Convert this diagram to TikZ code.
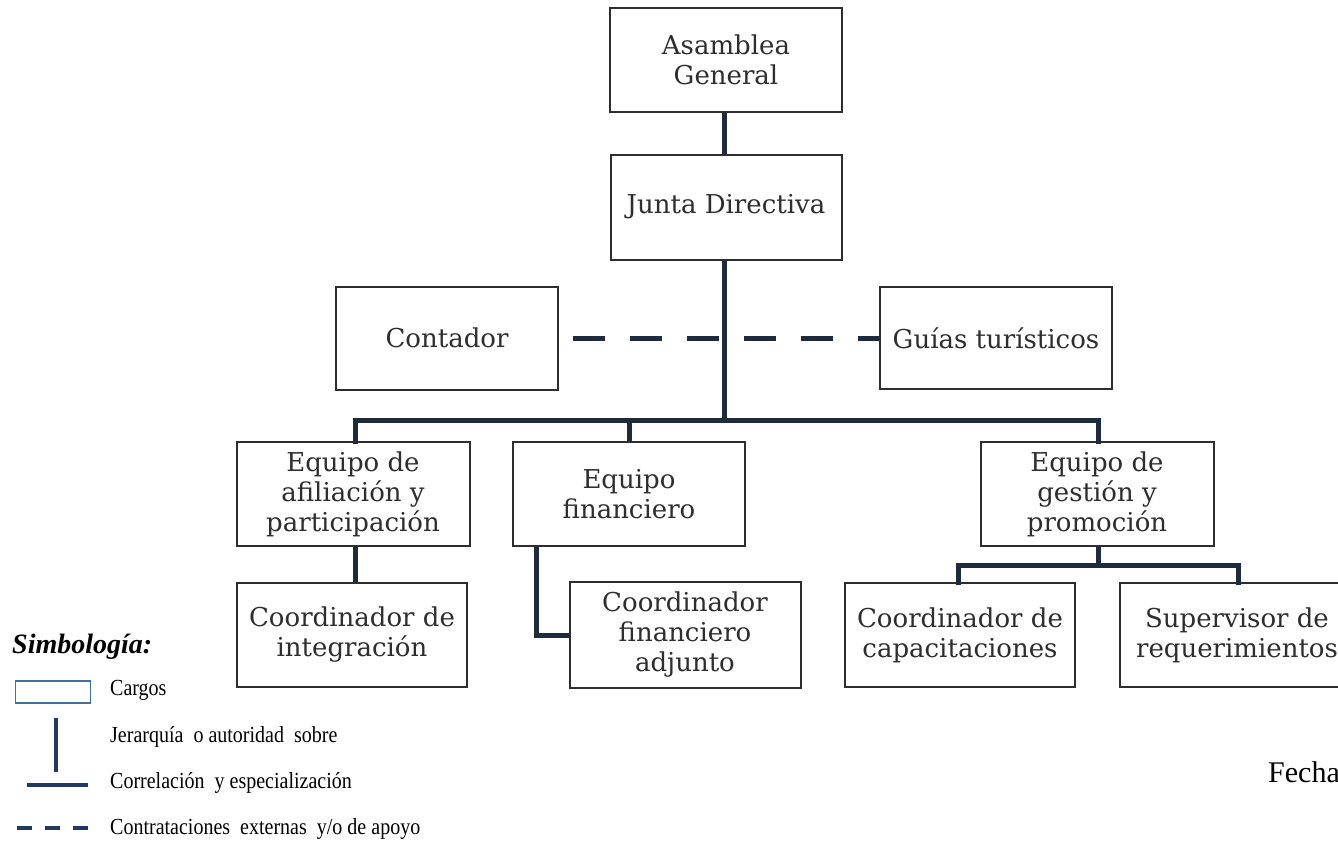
\documentclass[tikz,border=0pt]{standalone}
\usepackage{fontspec}
\setmainfont{DejaVu Serif}
\newfontfamily\legfont{Liberation Serif}
\usetikzlibrary{calc}
\definecolor{linec}{HTML}{1E2B3C}
\definecolor{boxc}{HTML}{2E2E2E}
\definecolor{legc}{HTML}{1F3864}
\definecolor{legbox}{HTML}{41719C}
\tikzset{
  cargo/.style={draw=boxc, line width=2pt, fill=white, text=boxc, align=center,
    font=\fontsize{26}{30}\selectfont, inner sep=0pt},
  jer/.style={draw=linec, line width=5pt},
  corr/.style={draw=linec, line width=5pt, dash pattern=on 32pt off 25pt, dash phase=43pt},
  legtext/.style={anchor=west, font=\legfont\fontsize{23}{26}\selectfont, text=black, inner sep=0pt,
    xscale=0.87, transform shape},
}
\begin{document}
\begin{tikzpicture}[x=1pt,y=-1pt]
\useasboundingbox (0,0) rectangle (1338,846);
\fill[white] (0,0) rectangle (1338,846);
% boxes
\node[cargo, minimum width=232pt, minimum height=104pt] (asam) at (726,60) {Asamblea\\General};
\node[cargo, minimum width=231pt, minimum height=105pt] (junta) at (726,207) {Junta Directiva};
\node[cargo, minimum width=222pt, minimum height=103pt] (conta) at (447,338) {Contador};
\node[cargo, minimum width=232pt, minimum height=102pt] (guias) at (996,338) {Guías turísticos};
\node[cargo, minimum width=233pt, minimum height=104pt] (afil) at (353,494) {Equipo de\\afiliación y\\participación};
\node[cargo, minimum width=232pt, minimum height=104pt] (fin) at (629,494) {Equipo\\financiero};
\node[cargo, minimum width=233pt, minimum height=104pt] (gest) at (1097,494) {Equipo de\\gestión y\\promoción};
\node[cargo, minimum width=230pt, minimum height=104pt] (integ) at (352,635) {Coordinador de\\integración};
\node[cargo, minimum width=231pt, minimum height=106pt] (finadj) at (685,635) {Coordinador\\financiero\\adjunto};
\node[cargo, minimum width=230pt, minimum height=104pt] (capac) at (960,635) {Coordinador de\\capacitaciones};
\node[cargo, minimum width=234pt, minimum height=104pt] (superv) at (1237,635) {Supervisor de\\requerimientos};
% connectors
\coordinate (bus) at (724,420);
\coordinate (split) at (1098,565);
\draw[jer] (asam.south -| bus) -- (junta.north -| bus);
\draw[jer] (junta.south -| bus) -- (bus);
\draw[corr] (conta.east) -- (guias.west);
\draw[jer, line cap=rect] (afil.north -| 355,0) -- (355,420) -- (1098,420) -- (gest.north -| 1098,0);
\draw[jer] (fin.north) -- (fin.north |- bus);
\draw[jer] (afil.south -| 355,0) -- (integ.north -| 355,0);
\draw[jer] ($(fin.south west)+(24,0)$) |- (finadj.west);
\draw[jer] (gest.south -| split) -- (split);
\draw[jer, line cap=rect] (capac.north -| 958,0) -- (958,565) -- (1238,565) -- (superv.north -| 1238,0);
% legend
\node[anchor=west, inner sep=0pt, font=\legfont\fontsize{28}{30}\selectfont\bfseries\itshape] (simb) at (12,647) {Simbología:};
\node[draw=legbox, line width=1.2pt, minimum width=75pt, minimum height=22pt, inner sep=0pt] (legcargo) at (53,692) {};
\node[legtext] (tcargo) at (110,690) {Cargos};
\coordinate (lj1) at (56,718);
\coordinate (lj2) at (56,772);
\draw[draw=legc, line width=3.5pt] (lj1) -- (lj2);
\node[legtext] (tjer) at (110,737) {Jerarquía\ \ o autoridad\ \ sobre};
\coordinate (lc1) at (27,785);
\coordinate (lc2) at (88,785);
\draw[draw=legc, line width=3.5pt] (lc1) -- (lc2);
\node[legtext] (tcorr) at (110,783) {Correlación\ \ y especialización};
\coordinate (ld1) at (17,828);
\coordinate (ld2) at (88,828);
\draw[draw=legc, line width=3.5pt, dash pattern=on 15pt off 13pt] (ld1) -- (ld2);
\node[legtext] (tcont) at (110,829) {Contrataciones\ \ externas\ \ y/o de apoyo};
\node[anchor=west, inner sep=0pt, font=\legfont\fontsize{30}{34}\selectfont] (fecha) at (1268,772) {Fecha};
\end{tikzpicture}
\end{document}
